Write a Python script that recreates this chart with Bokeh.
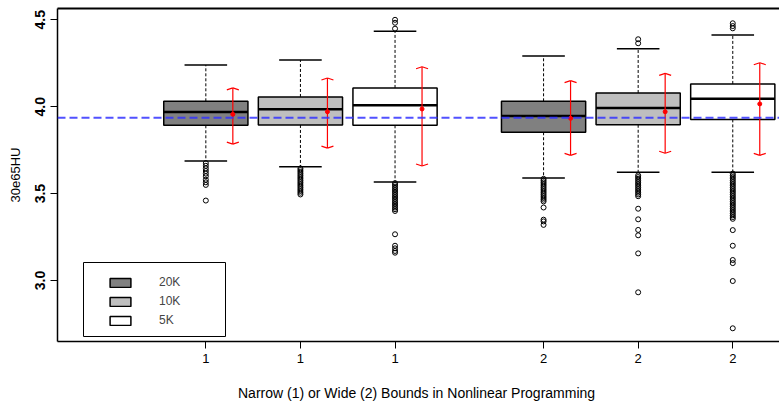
from bokeh.plotting import figure
from bokeh.models import (Range1d, FixedTicker, PrintfTickFormatter, LinearAxis,
                          Legend, LegendItem, BoxAnnotation, Span, ColumnDataSource)
from bokeh.embed import file_html
from bokeh.resources import INLINE

# ---------------- data ----------------
positions = [1.0, 2.0, 3.0, 4.57, 5.57, 6.57]
tick_labels = ["1", "1", "1", "2", "2", "2"]
sample_sizes = ["20K", "10K", "5K", "20K", "10K", "5K"]
legend_order = ["20K", "10K", "5K"]
box_fill = {"20K": "#808080", "10K": "#bfbfbf", "5K": "#ffffff"}

whisker_low = [3.688, 3.655, 3.567, 3.590, 3.623, 3.623]
q1 = [3.893, 3.895, 3.893, 3.853, 3.896, 3.927]
median = [3.970, 3.985, 4.008, 3.946, 3.993, 4.046]
q3 = [4.031, 4.056, 4.108, 4.031, 4.079, 4.131]
whisker_high = [4.240, 4.269, 4.434, 4.292, 4.334, 4.413]

mean_vals = [3.956, 3.971, 3.987, 3.933, 3.971, 4.016]
err_low = [3.785, 3.762, 3.659, 3.720, 3.732, 3.720]
err_high = [4.108, 4.165, 4.230, 4.150, 4.192, 4.253]

outliers = [
    [3.675, 3.660, 3.645, 3.630, 3.615, 3.600, 3.580, 3.565, 3.550, 3.460],
    [3.645, 3.635, 3.625, 3.615, 3.605, 3.595, 3.585, 3.575, 3.565, 3.555,
     3.545, 3.535, 3.525, 3.515, 3.505, 3.495],
    [4.449, 4.483, 4.500,
     3.560, 3.550, 3.540, 3.530, 3.520, 3.510, 3.500, 3.490, 3.480, 3.470,
     3.460, 3.450, 3.440, 3.430, 3.420, 3.410, 3.400,
     3.266, 3.200, 3.185, 3.170, 3.160],
    [3.585, 3.575, 3.565, 3.555, 3.545, 3.535, 3.525, 3.515, 3.505, 3.495,
     3.485, 3.475, 3.465, 3.455, 3.420, 3.350, 3.340, 3.320],
    [4.365, 4.388,
     3.605, 3.595, 3.585, 3.575, 3.565, 3.555, 3.545, 3.535, 3.525, 3.515,
     3.505, 3.495, 3.485, 3.413, 3.352, 3.291, 3.260, 3.156, 2.932],
    [4.451, 4.464, 4.480,
     3.615, 3.605, 3.595, 3.585, 3.575, 3.565, 3.555, 3.545, 3.535, 3.525,
     3.515, 3.505, 3.495, 3.485, 3.475, 3.465, 3.455, 3.445, 3.435, 3.425,
     3.415, 3.405, 3.395, 3.385, 3.375, 3.365, 3.355, 3.290, 3.200, 3.118,
     3.100, 2.997, 2.725],
]
reference_level = 3.937

y_ticks = [3.0, 3.5, 4.0, 4.5]
x_title = "Narrow (1) or Wide (2)  Bounds in Nonlinear Programming"
y_title = "30e65HU"

# ---------------- layout / style ----------------
FONT = "Liberation Sans"
W, H = 779, 406
FRAME_L, FRAME_T, FRAME_B = 57, 8, 341
X_START, X_END = -0.568, 7.064
Y_START, Y_END = 2.649, 4.565
PX_X = (W - FRAME_L) / (X_END - X_START)
PX_Y = (FRAME_B - FRAME_T) / (Y_END - Y_START)
BOX_W = 0.89
CAP_W = 0.45
ERR_OFFSET = 27 / PX_X

p = figure(width=W, height=H, output_backend="svg", toolbar_location=None,
           x_range=Range1d(X_START, X_END), y_range=Range1d(Y_START, Y_END),
           min_border_left=FRAME_L, min_border_right=0, min_border_top=FRAME_T,
           min_border_bottom=H - FRAME_B, background_fill_color="white",
           border_fill_color="white")
p.outline_line_color = None
p.xgrid.visible = False
p.ygrid.visible = False

# axes
xa = p.xaxis[0]
xa.ticker = FixedTicker(ticks=positions)
xa.major_label_overrides = {pos: lab for pos, lab in zip(positions, tick_labels)}
xa.axis_label = x_title
ya = p.yaxis[0]
ya.ticker = FixedTicker(ticks=y_ticks)
ya.formatter = PrintfTickFormatter(format="%.1f")
ya.axis_label = y_title
ya.major_label_orientation = "vertical"
for ax in (xa, ya):
    ax.axis_line_color = "black"
    ax.axis_line_width = 1.5
    ax.major_tick_line_color = "black"
    ax.major_tick_line_width = 1
    ax.major_tick_in = 0
    ax.major_tick_out = 7
    ax.minor_tick_line_color = None
    ax.major_label_text_font = FONT
    ax.major_label_text_font_size = "13px"
    ax.major_label_text_color = "black"
    ax.axis_label_text_font = FONT
    ax.axis_label_text_font_size = "13px"
    ax.axis_label_text_font_style = "normal"
    ax.axis_label_text_color = "black"
ya.major_label_text_font_style = "bold"
ya.major_label_text_font_size = "14px"
xa.axis_label_text_font_size = "14px"
xa.major_label_standoff = 5
xa.axis_label_standoff = 19
ya.major_label_standoff = 5
ya.axis_label_standoff = 10

top = LinearAxis(axis_line_color="black", axis_line_width=2,
                 major_tick_line_color=None, minor_tick_line_color=None,
                 major_tick_in=0, major_tick_out=0, minor_tick_in=0, minor_tick_out=0,
                 major_label_text_font_size="0px", major_label_standoff=0,
                 ticker=FixedTicker(ticks=[]))
p.add_layout(top, "above")

# whiskers (dashed)
p.segment(x0=positions, y0=q3, x1=positions, y1=whisker_high,
          line_color="black", line_width=1, line_dash="3 2")
p.segment(x0=positions, y0=q1, x1=positions, y1=whisker_low,
          line_color="black", line_width=1, line_dash="3 2")
# whisker caps
cap_x0 = [x - CAP_W / 2 for x in positions]
cap_x1 = [x + CAP_W / 2 for x in positions]
p.segment(x0=cap_x0, y0=whisker_high, x1=cap_x1, y1=whisker_high,
          line_color="black", line_width=1.5)
p.segment(x0=cap_x0, y0=whisker_low, x1=cap_x1, y1=whisker_low,
          line_color="black", line_width=1.5)

# boxes, one renderer per sample size
box_renderers = {}
for s in legend_order:
    idx = [i for i, ss in enumerate(sample_sizes) if ss == s]
    src = ColumnDataSource(dict(x=[positions[i] for i in idx],
                                top=[q3[i] for i in idx],
                                bottom=[q1[i] for i in idx]))
    box_renderers[s] = p.vbar(x="x", top="top", bottom="bottom", width=BOX_W,
                              source=src, fill_color=box_fill[s],
                              line_color="black", line_width=1.5)
# medians
p.segment(x0=[x - BOX_W / 2 for x in positions], y0=median,
          x1=[x + BOX_W / 2 for x in positions], y1=median,
          line_color="black", line_width=2.5)

# outliers
ox, oy = [], []
for x, vals in zip(positions, outliers):
    for v in vals:
        ox.append(x)
        oy.append(v)
p.scatter(ox, oy, marker="circle", size=5, fill_color=None,
          line_color="black", line_width=1)

# reference line
p.add_layout(Span(location=reference_level, dimension="width",
                  line_color="#3333ff", line_alpha=0.85, line_width=2,
                  line_dash="8 4"))

# red mean +/- error bars
ex = [x + ERR_OFFSET for x in positions]
p.segment(x0=ex, y0=err_low, x1=ex, y1=err_high, line_color="red", line_width=1.2)
dx = 6 / PX_X
dy = 2 / PX_Y
for sign in (-1, 1):
    p.segment(x0=[x + sign * dx for x in ex], y0=[v - dy for v in err_high],
              x1=ex, y1=err_high, line_color="red", line_width=1.2)
    p.segment(x0=[x + sign * dx for x in ex], y0=[v + dy for v in err_low],
              x1=ex, y1=err_low, line_color="red", line_width=1.2)
p.scatter(ex, mean_vals, marker="circle", size=4, fill_color="red", line_color="red")

# legend frame
def px_to_x(px):
    return X_START + (px - FRAME_L) / PX_X

def py_to_y(py):
    return Y_START + (FRAME_B - py) / PX_Y

p.add_layout(BoxAnnotation(left=px_to_x(83), right=px_to_x(225),
                           top=py_to_y(262), bottom=py_to_y(336),
                           fill_color="white", fill_alpha=1.0,
                           line_color="black", line_width=1, line_alpha=1.0))
legend = Legend(items=[LegendItem(label=s, renderers=[box_renderers[s]]) for s in legend_order],
                location=(50, 14), orientation="vertical",
                border_line_color=None, background_fill_alpha=0,
                padding=0, margin=0, spacing=5, glyph_width=26, glyph_height=11,
                label_standoff=26, label_height=11,
                label_text_font=FONT, label_text_font_size="12px")
p.add_layout(legend, "center")

open("out.html", "w").write(file_html(p, INLINE))
